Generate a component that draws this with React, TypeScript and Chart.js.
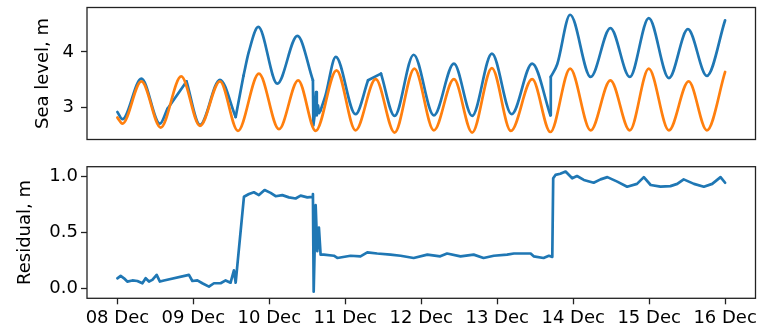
import React, { useEffect, useRef } from 'react';
import { Chart, registerables } from 'chart.js';

Chart.register(...registerables);

// x values are days since 08 Dec 00:00
const dayTicks = [0, 1, 2, 3, 4, 5, 6, 7, 8];
const dayTickLabels = ['08 Dec', '09 Dec', '10 Dec', '11 Dec', '12 Dec', '13 Dec', '14 Dec', '15 Dec', '16 Dec'];
const seaLevelTicks = [3, 4];
const residualTicks = [0, 0.5, 1.0];

// predicted tide (orange): [day, level m]
const predictedSeries: [number, number][] = [
  [0, 2.82], [0.066, 2.71], [0.316, 3.47], [0.57, 2.64], [0.84, 3.56], [1.087, 2.67],
  [1.35, 3.47], [1.587, 2.58], [1.863, 3.61], [2.127, 2.61], [2.38, 3.49], [2.61, 2.58],
  [2.885, 3.67], [3.135, 2.59], [3.40, 3.51], [3.649, 2.55], [3.91, 3.70], [4.166, 2.59],
  [4.43, 3.51], [4.67, 2.55], [4.93, 3.71], [5.18, 2.58], [5.46, 3.51], [5.70, 2.56],
  [5.96, 3.70], [6.23, 2.59], [6.49, 3.49], [6.745, 2.59], [6.995, 3.70], [7.26, 2.59],
  [7.52, 3.47], [7.76, 2.59], [8.0, 3.64],
];

// observed sea level (blue), smooth stretches; null separates stretches
const observedSmooth: ([number, number] | null)[] = [
  [0, 2.92], [0.066, 2.79], [0.316, 3.52], [0.56, 2.71], [0.66, 2.98], null,
  [0.91, 3.47], [1.087, 2.69], [1.35, 3.50], [1.557, 2.83], null,
  [1.66, 3.57], [1.73, 4.0], [1.855, 4.45], [2.105, 3.43], [2.37, 4.29], [2.574, 3.49], null,
  [2.675, 2.95], [2.74, 3.22], [2.875, 3.91], [3.135, 2.88], [3.30, 3.49], null,
  [3.47, 3.61], [3.649, 2.85], [3.90, 3.95], [4.166, 2.86], [4.43, 3.79], [4.67, 2.85],
  [4.93, 3.97], [5.19, 2.88], [5.46, 3.79], [5.70, 2.86], null,
  [5.705, 3.55], [5.79, 3.78], [5.96, 4.67], [6.23, 3.55], [6.49, 4.43], [6.745, 3.55],
  [6.995, 4.61], [7.26, 3.53], [7.51, 4.41], [7.76, 3.57], [8.0, 4.57],
];

// observed sea level (blue), straight stretches (gaps and spikes)
const observedStraight: ([number, number] | null)[] = [
  [0.66, 2.98], [0.91, 3.47], null,
  [1.557, 2.83], [1.66, 3.57], null,
  [2.574, 3.49], [2.580, 2.68], [2.60, 2.90], [2.615, 3.28], [2.625, 2.86], [2.64, 3.04], [2.655, 2.90], [2.675, 2.95], null,
  [3.30, 3.49], [3.47, 3.61], null,
  [5.70, 2.86], [5.705, 3.55],
];

// residual (blue): [day, m]
const residualSeries: [number, number][] = [
  [0, 0.089], [0.043, 0.11], [0.087, 0.089], [0.13, 0.06], [0.197, 0.07], [0.263, 0.065],
  [0.329, 0.045], [0.372, 0.09], [0.416, 0.06], [0.46, 0.075], [0.517, 0.12], [0.56, 0.06],
  [0.613, 0.07], [0.942, 0.12], [0.987, 0.065], [1.053, 0.07], [1.118, 0.045], [1.205, 0.015],
  [1.271, 0.045], [1.359, 0.045], [1.425, 0.07], [1.49, 0.05], [1.534, 0.16], [1.557, 0.05],
  [1.666, 0.815], [1.732, 0.84], [1.797, 0.855], [1.863, 0.83], [1.938, 0.875], [2.017, 0.85],
  [2.083, 0.82], [2.171, 0.83], [2.258, 0.81], [2.346, 0.80], [2.412, 0.825], [2.50, 0.81],
  [2.566, 0.815], [2.574, 0.84], [2.584, -0.03], [2.61, 0.74], [2.632, 0.33], [2.653, 0.54],
  [2.675, 0.30], [2.718, 0.30], [2.85, 0.29], [2.895, 0.27], [3.07, 0.29], [3.20, 0.285],
  [3.29, 0.32], [3.42, 0.31], [3.596, 0.30], [3.728, 0.29], [3.90, 0.27], [4.08, 0.30],
  [4.25, 0.285], [4.34, 0.31], [4.517, 0.285], [4.69, 0.30], [4.82, 0.27], [4.955, 0.29],
  [5.13, 0.30], [5.22, 0.31], [5.44, 0.31], [5.48, 0.285], [5.61, 0.27], [5.68, 0.29],
  [5.725, 0.28], [5.737, 0.98], [5.767, 1.01], [5.83, 1.02], [5.90, 1.04], [5.987, 0.98],
  [6.05, 1.00], [6.14, 0.965], [6.27, 0.94], [6.36, 0.97], [6.45, 0.99], [6.58, 0.95],
  [6.71, 0.905], [6.84, 0.93], [6.93, 0.99], [7.02, 0.92], [7.15, 0.905], [7.28, 0.91],
  [7.37, 0.93], [7.455, 0.97], [7.59, 0.93], [7.72, 0.905], [7.83, 0.93], [7.94, 0.99],
  [8.0, 0.94],
];

const BLUE = '#1f77b4';
const ORANGE = '#ff7f0e';
const FONT = { family: 'DejaVu Sans', size: 18 };
const LINE_W = 2.7;

function toPoints(series: [number, number][]) {
  return series.map(([x, y]) => ({ x, y }));
}

function splitSegments(series: ([number, number] | null)[]) {
  const segs: { x: number; y: number }[][] = [];
  let cur: { x: number; y: number }[] = [];
  series.forEach((p) => {
    if (p === null) {
      if (cur.length) segs.push(cur);
      cur = [];
    } else cur.push({ x: p[0], y: p[1] });
  });
  if (cur.length) segs.push(cur);
  return segs;
}

const framePlugin = {
  id: 'frame',
  afterDatasetsDraw(chart: any) {
    const { ctx, chartArea: a } = chart;
    ctx.save();
    ctx.strokeStyle = '#222';
    ctx.lineWidth = 1.3;
    ctx.strokeRect(a.left, a.top, a.right - a.left, a.bottom - a.top);
    ctx.restore();
  },
};

function lineDataset(data: any[], color: string, smooth: boolean) {
  return {
    data,
    borderColor: color,
    backgroundColor: color,
    borderWidth: LINE_W,
    pointRadius: 0,
    fill: false,
    tension: 0,
    cubicInterpolationMode: smooth ? 'monotone' : 'default',
    borderJoinStyle: 'round',
    borderCapStyle: 'round',
  };
}

function zeroPadding(s: any) {
  s.paddingTop = 0;
  s.paddingBottom = 0;
  s.paddingLeft = 0;
  s.paddingRight = 0;
}

function yAxis(min: number, max: number, ticks: number[], title: string, titlePad: number, labelPad: number, fmt: (v: number) => string) {
  return {
    type: 'linear',
    min,
    max,
    afterFit: (s: any) => {
      s.width = 87;
      zeroPadding(s);
    },
    afterBuildTicks: (s: any) => {
      s.ticks = ticks.map((v) => ({ value: v }));
    },
    ticks: {
      color: '#000',
      font: FONT,
      padding: labelPad,
      callback: (v: any) => fmt(Number(v)),
    },
    grid: {
      display: true,
      drawOnChartArea: false,
      drawTicks: true,
      tickLength: 6,
      tickColor: '#222',
      tickWidth: 1.3,
    },
    border: { display: false },
    title: {
      display: true,
      text: title,
      color: '#000',
      font: FONT,
      padding: { top: titlePad, bottom: 0 },
    },
  };
}

export default function App() {
  const topRef = useRef<HTMLCanvasElement>(null);
  const botRef = useRef<HTMLCanvasElement>(null);

  useEffect(() => {
    const observedDatasets = [
      ...splitSegments(observedSmooth).map((seg) => lineDataset(seg, BLUE, true)),
      ...splitSegments(observedStraight).map((seg) => lineDataset(seg, BLUE, false)),
    ];
    const top = new Chart(topRef.current as HTMLCanvasElement, {
      type: 'line',
      data: {
        datasets: [lineDataset(toPoints(predictedSeries), ORANGE, true), ...observedDatasets] as any,
      },
      options: {
        animation: false,
        responsive: false,
        maintainAspectRatio: false,
        events: [],
        layout: { padding: { left: 0, right: 6.5, top: 7.5, bottom: 10.5 } },
        plugins: { legend: { display: false }, tooltip: { enabled: false } },
        scales: {
          x: { type: 'linear', display: false, min: -0.4, max: 8.4 },
          y: yAxis(2.425, 4.8, seaLevelTicks, 'Sea level, m', 33, 7, (v) => String(v)),
        },
      } as any,
      plugins: [framePlugin],
    });

    const bot = new Chart(botRef.current as HTMLCanvasElement, {
      type: 'line',
      data: {
        datasets: [lineDataset(toPoints(residualSeries), BLUE, false)] as any,
      },
      options: {
        animation: false,
        responsive: false,
        maintainAspectRatio: false,
        events: [],
        layout: { padding: { left: 0, right: 6.5, top: 16.7, bottom: 0 } },
        plugins: { legend: { display: false }, tooltip: { enabled: false } },
        scales: {
          x: {
            type: 'linear',
            min: -0.4,
            max: 8.4,
            afterFit: (s: any) => {
              s.height = 31.7;
              zeroPadding(s);
            },
            afterBuildTicks: (s: any) => {
              s.ticks = dayTicks.map((v) => ({ value: v }));
            },
            ticks: {
              color: '#000',
              font: FONT,
              padding: 3.5,
              autoSkip: false,
              maxRotation: 0,
              callback: (_v: any, i: number) => dayTickLabels[i],
            },
            grid: {
              display: true,
              drawOnChartArea: false,
              drawTicks: true,
              tickLength: 6,
              tickColor: '#222',
              tickWidth: 1.3,
            },
            border: { display: false },
          },
          y: yAxis(-0.089, 1.083, residualTicks, 'Residual, m', 15, 3, (v) => v.toFixed(1)),
        },
      } as any,
      plugins: [framePlugin],
    });

    return () => {
      top.destroy();
      bot.destroy();
    };
  }, []);

  return (
    <div style={{ position: 'fixed', left: 0, top: 0, width: 762, height: 330, background: '#fff' }}>
      <canvas ref={topRef} width={762} height={150} style={{ position: 'absolute', left: 0, top: 0 }} />
      <canvas ref={botRef} width={762} height={180} style={{ position: 'absolute', left: 0, top: 150 }} />
    </div>
  );
}
